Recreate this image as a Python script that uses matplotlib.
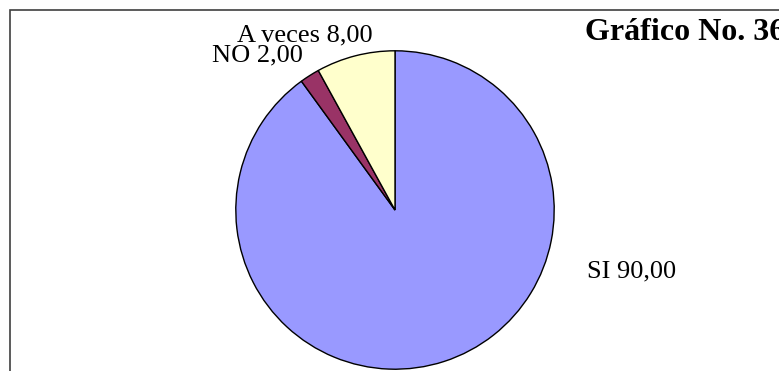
import matplotlib.pyplot as plt
from matplotlib.patches import Rectangle

# datos del grafico
categorias = ["SI", "NO", "A veces"]
valores = [90.0, 2.0, 8.0]
colores = ["#9999FF", "#993366", "#FFFFCC"]
titulo = "Gráfico No. 36"

plt.rcParams['font.family'] = ['Liberation Serif', 'DejaVu Serif']

W, H = 779, 371
fig = plt.figure(figsize=(W / 100, H / 100), dpi=100)

# marco del grafico (se sale por la derecha y por abajo)
fig.patches.append(Rectangle((10 / W, -0.1), 1.2, 1 - 10 / H + 0.1,
                             transform=fig.transFigure, fill=False,
                             edgecolor="#404040", linewidth=1.2))

# circulo: centro (395, 210), radio 160 px
cx, cy, r = 395, 210, 160
ax = fig.add_axes([(cx - r) / W, (H - cy - r) / H, 2 * r / W, 2 * r / H])
ax.pie(valores, colors=colores, startangle=90, counterclock=False,
       wedgeprops=dict(edgecolor="black", linewidth=1.0))
ax.set_xlim(-1.005, 1.005)
ax.set_ylim(-1.005, 1.005)
ax.set_aspect("equal")
ax.axis("off")

def etiqueta(nombre, valor):
    return f"{nombre} {valor:.2f}".replace(".", ",")

pos = {"SI": (587, 271, "left"), "NO": (303, 55, "right"), "A veces": (373, 35, "right")}
for nombre, valor in zip(categorias, valores):
    x, y, ha = pos[nombre]
    fig.text(x / W, 1 - y / H, etiqueta(nombre, valor), ha=ha, va="center",
             fontsize=19, color="black")

fig.text(585 / W, 1 - 32 / H, titulo, ha="left", va="center",
         fontsize=23, fontweight="bold")

fig.savefig("out.png", dpi=100)
